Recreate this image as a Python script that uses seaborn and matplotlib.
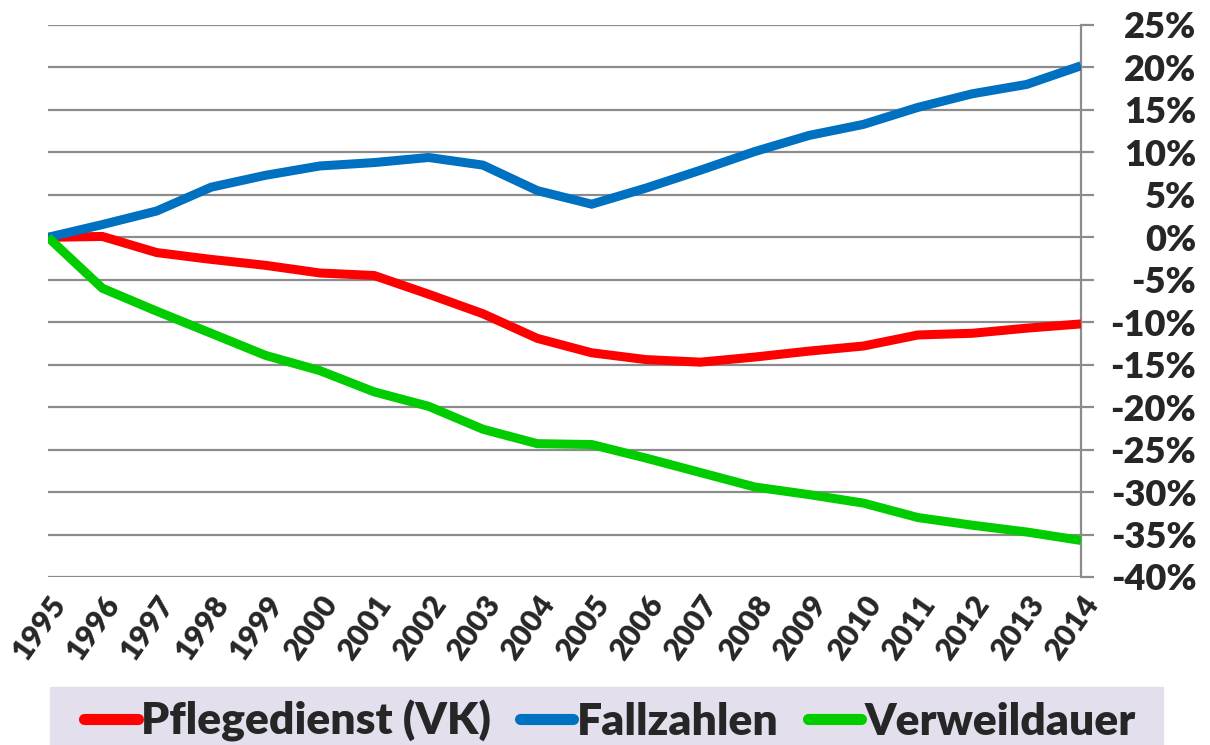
import pandas as pd
import matplotlib.pyplot as plt
import seaborn as sns
from matplotlib.lines import Line2D
from matplotlib.patches import Rectangle


years = list(range(1995, 2015))

# change vs. 1995 in percent
pflegedienst = [0.0, 0.1, -1.8, -2.6, -3.3, -4.2, -4.5, -6.7, -9.0, -11.9,
                -13.6, -14.4, -14.7, -14.1, -13.4, -12.8, -11.5, -11.3, -10.7, -10.2]
fallzahlen = [0.0, 1.5, 3.1, 5.9, 7.3, 8.4, 8.8, 9.4, 8.5, 5.5,
              3.9, 5.8, 7.9, 10.1, 12.0, 13.3, 15.3, 16.9, 18.0, 20.2]
verweildauer = [0.0, -6.0, -8.7, -11.3, -13.9, -15.7, -18.2, -19.9, -22.6, -24.3,
                -24.4, -26.0, -27.7, -29.4, -30.3, -31.3, -33.0, -33.9, -34.7, -35.7]

series_names = ['Pflegedienst (VK)', 'Fallzahlen', 'Verweildauer']
colors = ['#FF0000', '#0070C0', '#00CC00']
y_ticks = list(range(-40, 30, 5))
y_labels = [f'{t}%' for t in y_ticks]

df = pd.DataFrame({
    'Jahr': years * 3,
    'Wert': pflegedienst + fallzahlen + verweildauer,
    'Reihe': [n for n in series_names for _ in years],
})

sns.set_theme(style='white')
plt.rcParams['font.family'] = ['Lato', 'DejaVu Sans']

fig = plt.figure(figsize=(12.1, 7.45), dpi=100)
ax = fig.add_axes([48 / 1210, 168 / 745, (1081 - 48) / 1210, (577 - 25) / 745])

grid_color = '#8C8C8C'
for t in y_ticks:
    ax.axhline(t, color=grid_color, lw=1.6, zorder=1)

sns.lineplot(data=df, x='Jahr', y='Wert', hue='Reihe', hue_order=series_names,
             palette=colors, linewidth=6.5, legend=False, ax=ax, zorder=3)
for ln in ax.get_lines():
    ln.set_solid_capstyle('butt')
    ln.set_solid_joinstyle('miter')

ax.set_xlim(1995, 2014)
ax.set_ylim(-40, 25)
ax.set_xlabel('')
ax.set_ylabel('')

for side in ['left', 'top', 'bottom']:
    ax.spines[side].set_visible(False)
ax.spines['right'].set_color(grid_color)
ax.spines['right'].set_linewidth(1.6)

ax.yaxis.tick_right()
ax.set_yticks(y_ticks)
ax.set_yticklabels(y_labels, fontsize=26, fontweight='heavy', ha='right')
ax.tick_params(axis='y', direction='out', length=9, width=1.6, color=grid_color, pad=74)

ax.set_xticks(years)
ax.set_xticklabels([str(y) for y in years], fontsize=22, fontweight='heavy',
                   rotation=55, ha='right', rotation_mode='anchor')
ax.tick_params(axis='x', length=0, pad=10)

# legend strip at the bottom
fig.patches.append(Rectangle((50 / 1210, 0), (1163 - 50) / 1210, 58 / 745,
                             transform=fig.transFigure, color='#E4DFEC', zorder=0))
handles = [Line2D([], [], color=c, lw=8, solid_capstyle='round') for c in colors]
fig.legend(handles, series_names, loc='center', bbox_to_anchor=(610 / 1210, 24 / 745),
           ncol=3, frameon=False, prop={'family': 'Lato', 'weight': 'heavy', 'size': 32},
           handlelength=1.2, handletextpad=0.08, columnspacing=0.65)

fig.savefig('out.png', dpi=100)
